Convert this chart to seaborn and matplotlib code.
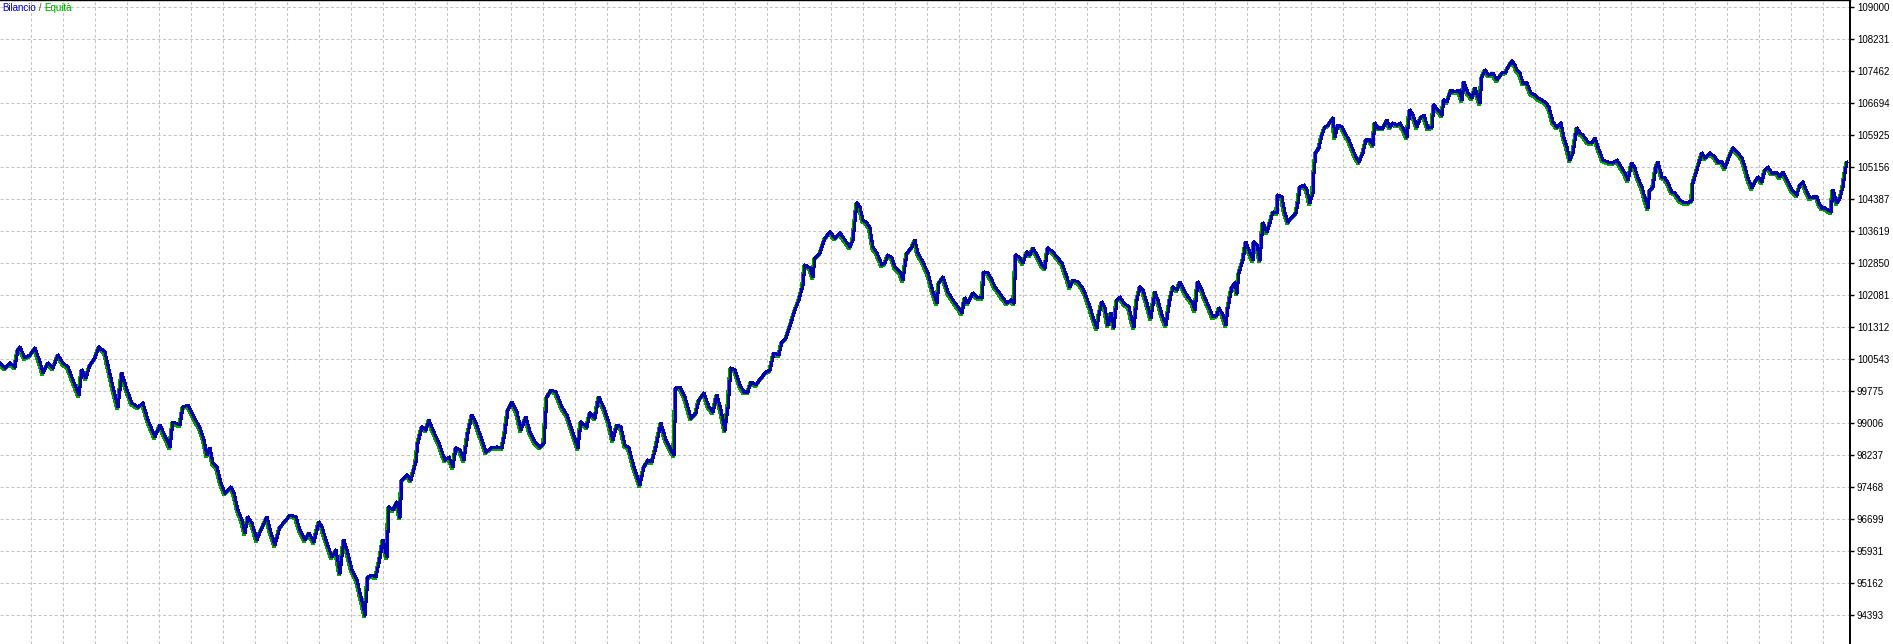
import numpy as np
import matplotlib
matplotlib.use("Agg")
import matplotlib.pyplot as plt
import matplotlib.transforms as mtransforms
import pandas as pd
import seaborn as sns

# deal number (x) and account balance, stretch by stretch
deal = [
    0, 5, 10, 15, 18, 20, 25, 30, 35, 40, 43, 48, 53, 58, 63, 68, 73, 79, 82, 86,
    90, 95, 99, 105, 108, 113, 118, 122, 127, 132, 138, 143, 148, 155, 160, 167, 170, 173, 180, 183,
    188, 193, 200,
    204, 207, 210, 213, 217, 221, 225, 231, 234, 238, 242, 245, 248, 252, 257, 261, 267, 271, 275, 280,
    286, 290, 296, 300, 305, 309, 314, 319, 322, 327, 332, 336, 340, 344, 347, 352, 357, 361, 365, 368,
    372, 376, 380, 383, 387, 389, 393, 397, 400, 402, 407, 411, 416, 418, 422, 426, 429, 433, 439, 445,
    449, 453, 456, 460, 464, 468, 472, 476, 481, 486, 491, 497, 502, 505, 508, 512, 517, 521, 526, 530,
    535, 540, 544, 547, 551, 556, 562, 567, 572, 578, 581, 587, 590, 595, 599, 604, 609, 613, 617, 621,
    625, 629, 634, 640, 644, 648, 652, 656, 661, 666, 671, 674, 676, 680, 685, 691, 696, 699, 704, 709,
    713, 717, 721, 725, 728, 731, 735, 740, 744, 748, 751, 756, 761, 766, 770, 774, 779, 782, 786, 791,
    795, 799,
    803, 805, 810, 813, 815, 820, 825, 830, 835, 840, 845, 850, 853, 857, 860, 863, 867, 870, 873, 877,
    882, 885, 888, 892, 895, 900, 903, 907, 912, 915, 918, 923, 928, 933, 937, 939, 943, 948, 953, 958,
    962, 965, 968, 973, 977, 982, 984, 988, 992, 995, 999, 1003, 1007, 1011, 1014, 1016, 1020, 1023, 1027, 1030,
    1033, 1037, 1042, 1045, 1048, 1053, 1057, 1062, 1067, 1070, 1073, 1078, 1082, 1085, 1090, 1094,
    1097, 1099, 1102, 1105, 1108, 1111, 1114, 1117, 1120, 1124, 1129, 1132, 1134, 1137, 1140, 1143, 1147, 1151, 1155, 1158,
    1162, 1166, 1170, 1173, 1177, 1180, 1184, 1188, 1192, 1195, 1198, 1202, 1205, 1209, 1213, 1217, 1219, 1223, 1226, 1228,
    1232, 1235, 1237, 1239, 1243, 1246, 1250, 1253, 1254, 1257, 1260, 1263, 1267, 1270, 1273, 1277, 1278, 1282, 1285, 1288,
    1292, 1296, 1298, 1300, 1304, 1307, 1310,
    1313, 1314, 1316, 1319, 1322, 1325, 1328, 1333, 1335, 1338, 1342, 1345, 1349, 1353, 1356, 1359, 1363, 1366, 1370, 1373,
    1375, 1378, 1383, 1387, 1390, 1393, 1397, 1400, 1404, 1407, 1410, 1413, 1417, 1421, 1424, 1428, 1432, 1434, 1438, 1442,
    1444, 1447, 1451, 1455, 1459, 1462, 1464, 1468, 1472, 1475, 1478, 1480, 1482, 1485, 1489, 1493, 1497, 1502, 1506, 1508,
    1512, 1515, 1517, 1520, 1523, 1527, 1531, 1535, 1538, 1542, 1546, 1549,
    1553, 1557, 1561, 1564, 1567, 1570, 1573, 1577, 1580, 1583, 1588, 1592, 1595, 1598, 1603, 1608, 1613, 1617, 1622, 1625,
    1628, 1632, 1635, 1638, 1642, 1645, 1648, 1650, 1653, 1656, 1658, 1662, 1665, 1668, 1672, 1675, 1680, 1683, 1688, 1692,
    1693, 1697, 1702, 1705, 1710, 1715, 1718, 1722, 1725, 1730, 1733, 1738, 1742, 1745, 1748, 1752, 1755, 1758, 1762, 1765,
    1768, 1772, 1777, 1780, 1783, 1787, 1792, 1797, 1800, 1803, 1807, 1810, 1813, 1817, 1819, 1822, 1825, 1828, 1831, 1833,
    1837, 1840, 1843, 1845, 1847,
]

balance = [
    100451, 100331, 100451, 100355, 100764, 100836, 100572, 100644, 100812, 100475,
    100211, 100451, 100331, 100644, 100451, 100355, 100043, 99682, 100283, 100091,
    100403, 100572, 100836, 100716, 100403, 99874, 99394, 100211, 99802, 99490,
    99394, 99490, 99081, 98672, 98961, 98600, 98432, 99033, 98961, 99394,
    99442, 99201, 98889,
    98600, 98240, 98408, 98047, 97951, 97567, 97326, 97470, 97326, 96918,
    96677, 96365, 96749, 96605, 96196, 96437, 96749, 96365, 96076, 96509,
    96677, 96797, 96749, 96437, 96196, 96365, 96148, 96629, 96509, 96124,
    95788, 95956, 95403, 96196, 95956, 95475, 95235, 94826, 94393, 95307,
    95355, 95307, 95764, 96196, 95788, 96990, 96918, 97110, 96749, 97639,
    97759, 97639, 98072, 98528, 98913, 98841, 99081, 98841, 98528, 98120,
    98192, 97951, 98408, 98360, 98120, 98769, 99201, 99009, 98672, 98312,
    98408, 98432, 98408, 98769, 99322, 99514, 99274, 98841, 99153, 98793,
    98552, 98432, 98528, 99634, 99802, 99754, 99394, 99201, 98841, 98408,
    99033, 98913, 99250, 99129, 99634, 99370, 99009, 98600, 98961, 98913,
    98480, 98408, 97951, 97519, 97951, 98120, 98072, 98432, 99009, 98600,
    98360, 98240, 99850, 99874, 99634, 99129, 99250, 99562, 99730, 99394,
    99274, 99682, 99322, 98841, 99370, 100331, 100283, 99923, 99754, 99754,
    99995, 99923, 100091, 100235, 100283, 100692, 100644, 100956, 101052, 101413,
    101726, 101966,
    102327, 102807, 102735, 102519, 102976, 103096, 103456, 103601, 103456, 103577,
    103408, 103240, 103408, 104298, 104202, 103889, 103817, 103697, 103240, 103096,
    102807, 102856, 103048, 102976, 102759, 102639, 102447, 103096, 103240, 103408,
    103096, 102880, 102615, 102158, 101894, 102375, 102519, 102158, 101966, 101798,
    101653, 102014, 101894, 102134, 102038, 102014, 102639, 102615, 102447, 102278,
    102158, 102014, 101894, 101966, 101894, 103048, 102976, 102856, 103120, 103048,
    103216, 103048, 102807, 102735, 103216, 103120, 102999, 102856, 102519, 102278,
    102447, 102399, 102278, 102134, 101798, 101485,
    101293, 101605, 101918, 101774, 101365, 101653, 101317, 101966, 102038, 101894,
    101798, 101485, 101317, 101966, 102278, 102206, 101894, 101533, 102158, 101966,
    101605, 101365, 101966, 102278, 102206, 102399, 102206, 102038, 101918, 101726,
    102399, 102206, 102014, 101798, 101557, 101605, 101774, 101605, 101365, 101774,
    102278, 102375, 102134, 102615, 102928, 103360, 103096, 102928, 103360, 103288,
    102928, 103817, 103601, 103817, 104082, 104058, 104490, 104442, 104058, 103841,
    103961, 104058, 104298, 104683, 104731, 104610, 104298,
    104538, 105019, 105524, 105620, 105933, 106125, 106173, 106341, 105884, 106173,
    106125, 105981, 105812, 105572, 105404, 105283, 105500, 105812, 105812, 105692,
    106221, 106101, 106101, 106293, 106125, 106221, 106173, 106221, 106053, 105884,
    106534, 106413, 106125, 106365, 106413, 106101, 106125, 106654, 106534, 106413,
    106774, 106726, 107014, 106966, 107014, 106774, 107207, 106942, 106822, 107062,
    106846, 106702, 107327, 107495, 107375, 107423, 107255, 107423, 107447, 107567,
    107712, 107615, 107495, 107423, 107183, 107183, 106942, 106894, 106822, 106774,
    106702, 106606,
    106245, 106125, 106221, 105860, 105644, 105332, 105500, 106101, 105981, 105933,
    105764, 105740, 105860, 105644, 105332, 105283, 105259, 105332, 105139, 105019,
    104851, 105259, 105139, 104899, 104683, 104418, 104178, 104610, 104683, 105163,
    105283, 104923, 104899, 104779, 104562, 104538, 104370, 104322, 104298, 104370,
    104779, 105091, 105500, 105380, 105500, 105404, 105283, 105283, 105139, 105452,
    105620, 105500, 105380, 105163, 104899, 104658, 104803, 104923, 104803, 105091,
    105163, 105019, 105019, 104923, 105043, 104851, 104610, 104490, 104731, 104803,
    104562, 104418, 104442, 104442, 104298, 104178, 104178, 104130, 104082, 104610,
    104298, 104418, 104683, 105019, 105283,
]

# equity follows the balance at this scale, it only peeks out around the blue line
equity = balance

tick_values = [109000, 108231, 107462, 106694, 105925, 105156, 104387, 103619, 102850, 102081,
               101312, 100543, 99775, 99006, 98237, 97468, 96699, 95931, 95162, 94393]

sns.set_style("white")
plt.rcParams['font.family'] = ['Liberation Sans', 'DejaVu Sans']

W, H = 1893, 644
fig = plt.figure(figsize=(W / 100, H / 100), dpi=100)
ax = fig.add_axes([0, 0, 1850 / W, 1])

df = pd.DataFrame({'deal': deal, 'balance': balance, 'equity': equity})

sns.lineplot(data=df, x='deal', y='equity', ax=ax, color='#00A000', linewidth=2.0,
             estimator=None, sort=False, antialiased=False)
ax.lines[-1].set_transform(mtransforms.offset_copy(ax.transData, fig=fig, x=-1, y=-1.5, units='dots'))
sns.lineplot(data=df, x='deal', y='balance', ax=ax, color='#0000B0', linewidth=1.5,
             estimator=None, sort=False, antialiased=False)

ax.set_xlim(0, 1850)
ax.set_ylim(93696, 109178)
ax.set_xlabel('')
ax.set_ylabel('')

ax.set_xticks(np.arange(31, 1850, 32))
ax.tick_params(axis='x', length=0, labelbottom=False)

ax.yaxis.tick_right()
ax.set_yticks(tick_values)
ax.set_yticklabels([str(v) for v in tick_values])
ax.tick_params(axis='y', direction='out', length=3, width=1, pad=2, labelsize=7.0,
               colors='black', right=True, left=False)

ax.grid(True, color='#C4C4C4', linestyle=(0, (3, 2.2)), linewidth=0.75)
ax.set_axisbelow(True)

for side in ['left', 'bottom']:
    ax.spines[side].set_visible(False)
ax.spines['right'].set_color('black')
ax.spines['right'].set_linewidth(1.4)
ax.spines['top'].set_color('black')
ax.spines['top'].set_linewidth(1.0)

# "Bilancio / Equità" header, each word in its line colour
fig.canvas.draw()
renderer = fig.canvas.get_renderer()
x = 2
for word, col in [('Bilancio', '#0000C0'), (' / ', '#505050'), ('Equità', '#00A000')]:
    t = fig.text(x / W, 1 - 8 / H, word, color=col, fontsize=7.0, va='center', ha='left')
    x = t.get_window_extent(renderer).x1

fig.savefig('out.png', dpi=100)
